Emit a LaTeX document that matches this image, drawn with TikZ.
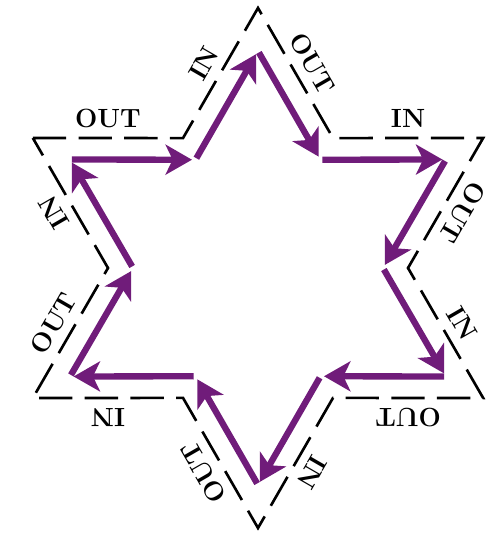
\documentclass[tikz,border=0pt]{standalone}
\usepackage{tikz}
\usetikzlibrary{arrows.meta}
\definecolor{flowpurple}{RGB}{112,28,122}

\begin{document}
\begin{tikzpicture}[>=Stealth,outline/.style={draw,line width=1.5pt,dash pattern=on 19pt off 7pt},flow/.style={->,draw=flowpurple,line width=3.6pt,shorten >=2pt,shorten <=1pt,arrows={-Stealth[length=15pt,width=17pt,inset=4pt]}},lab/.style={sloped,above=4pt,allow upside down,inner sep=1pt,font=\fontsize{15}{17}\selectfont\bfseries}]
\useasboundingbox (-5.16,-5.30) rectangle (4.80,5.36);
% dashed star
\coordinate (D1) at (150:5.2);
\coordinate (D2) at (120:3.0);
\coordinate (D3) at (90:5.2);
\coordinate (D4) at (60:3.0);
\coordinate (D5) at (30:5.2);
\coordinate (D6) at (0:3.0);
\coordinate (D7) at (-30:5.2);
\coordinate (D8) at (-60:3.0);
\coordinate (D9) at (-90:5.2);
\coordinate (D10) at (-120:3.0);
\coordinate (D11) at (-150:5.2);
\coordinate (D12) at (180:3.0);
\draw[outline] (D1) -- node[lab] (l1) {OUT} (D2) -- node[lab] (l2) {IN} (D3) -- node[lab] (l3) {OUT} (D4) -- node[lab] (l4) {IN} (D5) -- node[lab] (l5) {OUT} (D6) -- node[lab] (l6) {IN} (D7) -- node[lab] (l7) {OUT} (D8) -- node[lab] (l8) {IN} (D9) -- node[lab] (l9) {OUT} (D10) -- node[lab] (l10) {IN} (D11) -- node[lab] (l11) {OUT} (D12) -- node[lab] (l12) {IN} cycle;
% purple star
\coordinate (P1) at (150:4.34);
\coordinate (P2) at (120:2.5);
\coordinate (P3) at (90:4.34);
\coordinate (P4) at (60:2.5);
\coordinate (P5) at (30:4.34);
\coordinate (P6) at (0:2.5);
\coordinate (P7) at (-30:4.34);
\coordinate (P8) at (-60:2.5);
\coordinate (P9) at (-90:4.34);
\coordinate (P10) at (-120:2.5);
\coordinate (P11) at (-150:4.34);
\coordinate (P12) at (180:2.5);
\draw[flow] (P1)--(P2);
\draw[flow] (P2)--(P3);
\draw[flow] (P3)--(P4);
\draw[flow] (P4)--(P5);
\draw[flow] (P5)--(P6);
\draw[flow] (P6)--(P7);
\draw[flow] (P7)--(P8);
\draw[flow] (P8)--(P9);
\draw[flow] (P9)--(P10);
\draw[flow] (P10)--(P11);
\draw[flow] (P11)--(P12);
\draw[flow] (P12)--(P1);
\end{tikzpicture}
\end{document}
